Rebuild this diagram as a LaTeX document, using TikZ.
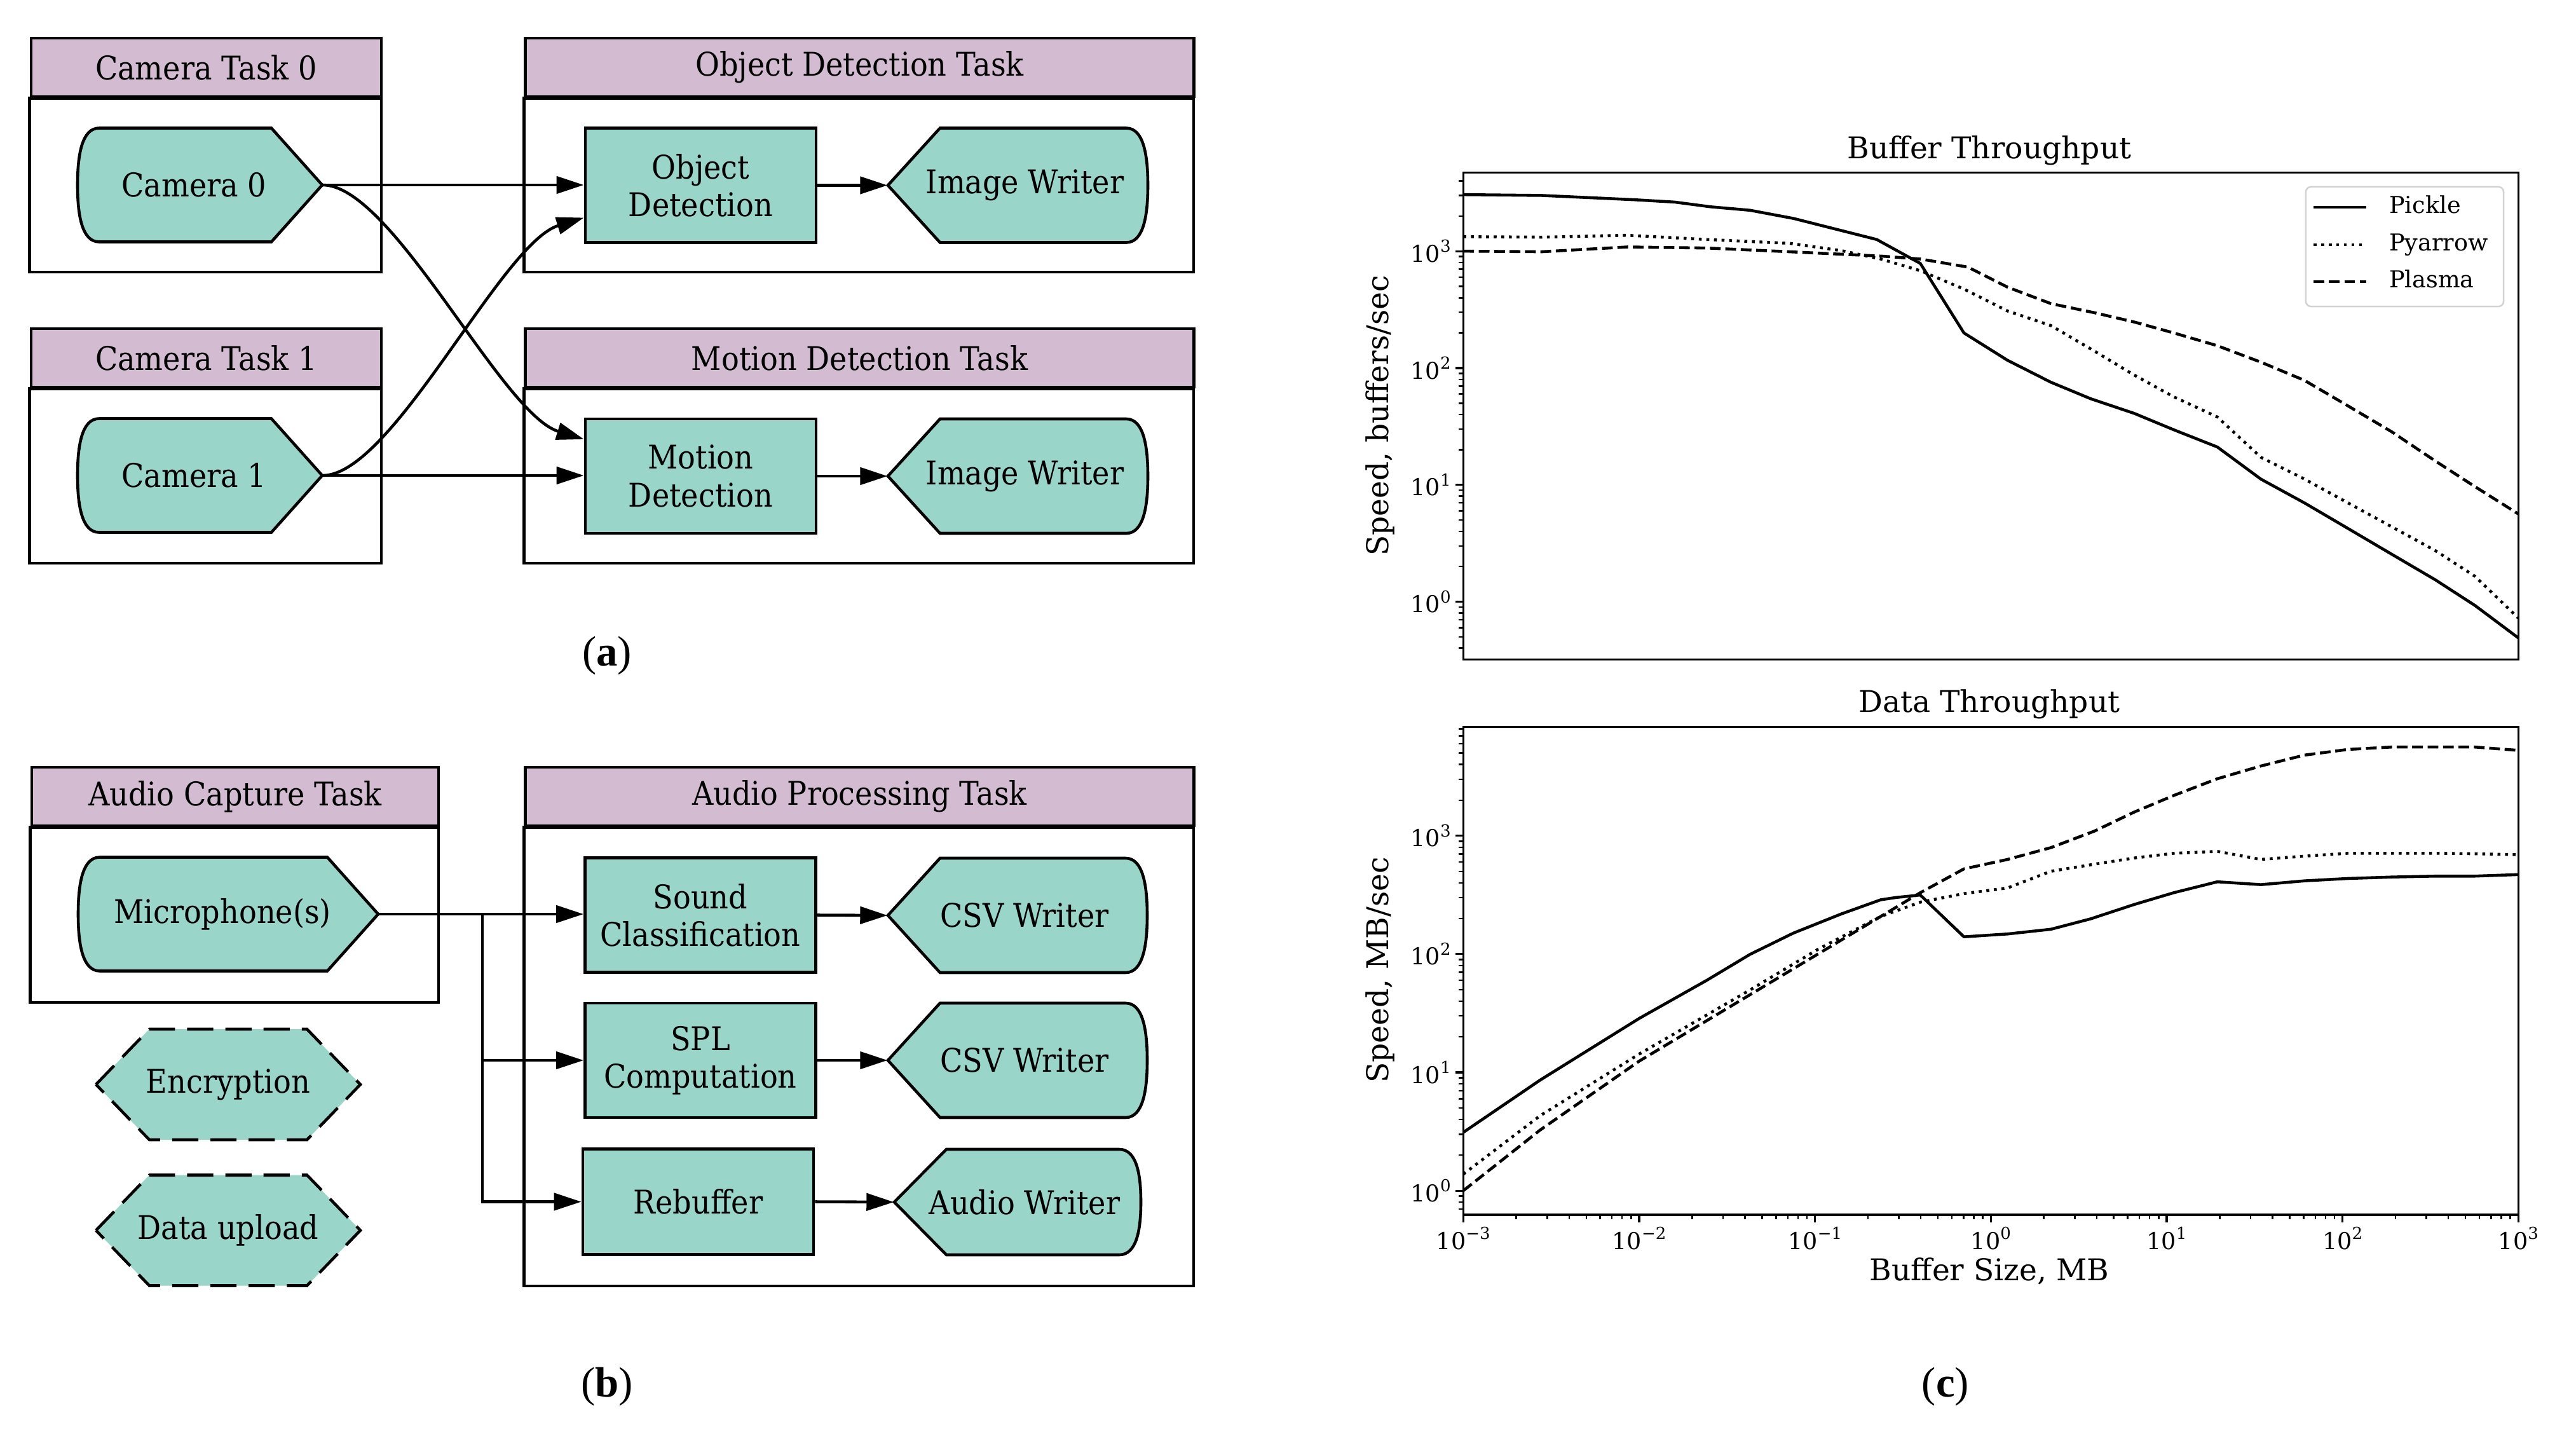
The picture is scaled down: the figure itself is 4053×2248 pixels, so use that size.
\documentclass[tikz,border=0pt]{standalone}
\usepackage{fontspec}
\usetikzlibrary{arrows.meta,calc}
\newfontfamily\diagfont{DejaVu Serif}[FakeStretch=0.9]
\newfontfamily\plotfont{DejaVu Serif}
\newfontfamily\capfont{Liberation Serif}
\definecolor{nodeteal}{RGB}{154,213,202}
\definecolor{bandlilac}{RGB}{211,188,210}
\definecolor{legendgray}{RGB}{210,210,210}

\newcommand{\nodefont}{\diagfont\fontsize{14.6}{16.8}\selectfont}
\newcommand{\tickfont}{\plotfont\fontsize{10.4}{12}\selectfont}
\newcommand{\labelfont}{\plotfont\fontsize{13.4}{16}\selectfont}
\newcommand{\tenpow}[1]{10\raisebox{0.42em}{\fontsize{7.4}{8}\selectfont#1}}

\tikzset{
  outline/.style={draw=black, line width=1.3pt},
  shapeline/.style={outline, fill=nodeteal},
  hexdash/.style={dash pattern=on 11.7pt off 5.4pt},
  bandnode/.style={outline, fill=bandlilac, minimum height=0.92cm, font=\nodefont},
  procnode/.style={outline, fill=nodeteal, minimum width=3.63cm, minimum height=1.80cm, align=center, font=\nodefont},
  shapetext/.style={inner sep=0pt, align=center, font=\nodefont},
  flow/.style={line width=1.3pt, -{Triangle[length=0.43cm,width=0.27cm]}},
  spine/.style={line width=0.9pt},
  minortick/.style={line width=0.7pt},
  ticklabel/.style={font=\tickfont, inner sep=0.06cm},
  axislabel/.style={font=\labelfont},
  legendtext/.style={font=\tickfont, inner sep=0pt, anchor=west, text height=1.6ex, text depth=0.3ex},
  pickle/.style={line width=1.3pt, line join=round},
  pyarrow/.style={line width=1.3pt, dash pattern=on 1.3pt off 2.1pt},
  plasma/.style={line width=1.3pt, dash pattern=on 4.8pt off 2.1pt},
  captext/.style={font=\capfont\fontsize{19}{22}\selectfont},
}

% source: round back, pointed front
\newcommand{\srcshape}[6]{%
  \draw[shapeline] (#2-#4/2+34,#3-#5/2) -- (#2+#4/2-80,#3-#5/2) -- (#2+#4/2,#3)
    -- (#2+#4/2-80,#3+#5/2) -- (#2-#4/2+34,#3+#5/2)
    .. controls (#2-#4/2+6,#3+#5/2) and (#2-#4/2,#3+#5/4) .. (#2-#4/2,#3)
    .. controls (#2-#4/2,#3-#5/4) and (#2-#4/2+6,#3-#5/2) .. cycle;
  \node[shapetext, minimum width={#4*0.01cm}, minimum height={#5*0.01cm}] (#1) at (#2,#3) {#6\hspace*{0.18cm}};}
% sink: pointed back, round front
\newcommand{\sinkshape}[6]{%
  \draw[shapeline] (#2-#4/2,#3) -- (#2-#4/2+82,#3-#5/2) -- (#2+#4/2-34,#3-#5/2)
    .. controls (#2+#4/2-6,#3-#5/2) and (#2+#4/2,#3-#5/4) .. (#2+#4/2,#3)
    .. controls (#2+#4/2,#3+#5/4) and (#2+#4/2-6,#3+#5/2) .. (#2+#4/2-34,#3+#5/2)
    -- (#2-#4/2+82,#3+#5/2) -- cycle;
  \node[shapetext, minimum width={#4*0.01cm}, minimum height={#5*0.01cm}] (#1) at (#2,#3) {\hspace*{0.22cm}#6};}
% optional stage
\newcommand{\hexshape}[4]{%
  \draw[shapeline, hexdash] (#2-208,#3) -- (#2-124,#3-87) -- (#2+124,#3-87) -- (#2+208,#3)
    -- (#2+124,#3+87) -- (#2-124,#3+87) -- cycle;
  \node[shapetext] (#1) at (#2,#3) {#4};}

\begin{document}
\begin{tikzpicture}[x=0.01cm, y=-0.01cm]
  \useasboundingbox (0,0) rectangle (4053,2248);

  % ---- (a) camera pipeline
  \node[bandnode, minimum width=5.51cm] (camtaskA) at (324.5,106) {Camera Task 0};
  \draw[outline] (camtaskA.south west) rectangle (600,428);
  \node[bandnode, minimum width=10.51cm] (objtask) at (1352.5,106) {Object Detection Task};
  \draw[outline] (objtask.south west) rectangle (1878,428);
  \node[bandnode, minimum width=5.51cm] (camtaskB) at (324.5,563) {Camera Task 1};
  \draw[outline] (camtaskB.south west) rectangle (600,886);
  \node[bandnode, minimum width=10.51cm] (mottask) at (1352.5,563) {Motion Detection Task};
  \draw[outline] (mottask.south west) rectangle (1878,886);

  \srcshape{cam0}{314.5}{291}{385}{179}{Camera 0}
  \srcshape{cam1}{314.5}{748}{385}{179}{Camera 1}
  \node[procnode] (objdet) at (1102.5,291.5) {Object\\Detection};
  \node[procnode] (motdet) at (1102.5,749) {Motion\\Detection};
  \sinkshape{imgwrA}{1601.5}{291.5}{409}{180}{Image Writer}
  \sinkshape{imgwrB}{1601.5}{749}{409}{180}{Image Writer}

  \draw[flow] (cam0.east) -- (cam0.east -| objdet.west);
  \draw[flow] (cam1.east) -- (cam1.east -| motdet.west);
  \draw[flow] (cam0.east) .. controls +(110,0) and +(-130,-40) .. ($(motdet.west)+(0,-58)$);
  \draw[flow] (cam1.east) .. controls +(110,0) and +(-130,40) .. ($(objdet.west)+(0,51)$);
  \draw[flow] (objdet.east) -- (imgwrA.west);
  \draw[flow] (motdet.east) -- (imgwrB.west);

  \node[captext] (capa) at (955,1031) {(\textbf{a})};

  % ---- (b) audio pipeline
  \node[bandnode, minimum width=6.40cm] (audcap) at (370,1253) {Audio Capture Task};
  \draw[outline] (audcap.south west) rectangle (690,1577);
  \node[bandnode, minimum width=10.51cm] (audproc) at (1352.5,1253) {Audio Processing Task};
  \draw[outline] (audproc.south west) rectangle (1878,2023);

  \srcshape{mic}{359}{1438}{472}{179}{Microphone(s)}
  \hexshape{encr}{359}{1706}{Encryption}
  \hexshape{dataup}{359}{1935.5}{Data upload}

  \node[procnode] (sndcls) at (1102,1439.5) {Sound\\Classification};
  \node[procnode] (splcomp) at (1102,1668) {SPL\\Computation};
  \node[procnode, minimum height=1.66cm] (rebuf) at (1098.5,1890.5) {Rebuffer};
  \sinkshape{csvA}{1601}{1440}{408}{180}{CSV Writer}
  \sinkshape{csvB}{1601}{1668}{408}{180}{CSV Writer}
  \sinkshape{audwr}{1601}{1891}{388}{166}{Audio Writer}

  \coordinate (bus) at (759,1438);
  \draw[flow] (mic.east) -- (mic.east -| sndcls.west);
  \draw[flow] (bus) |- (splcomp.west);
  \draw[flow] (bus) |- (rebuf.west);
  \draw[flow] (sndcls.east) -- (csvA.west);
  \draw[flow] (splcomp.east) -- (csvB.west);
  \draw[flow] (rebuf.east) -- (audwr.west);

  \node[captext] (capb) at (955,2181) {(\textbf{b})};

  % ---- (c) buffer throughput
  \node[axislabel] (buftitle) at (3130,237) {Buffer Throughput};
  \node[axislabel, rotate=90] (bufylab) at (2171,654) {Speed, buffers/sec};
  \begin{scope}[xshift=31.305cm, yshift=-9.46cm, x=2.765cm, y=1.837cm]
    \draw[spine] (-3,-0.495) rectangle (3,3.674);
    \foreach \k in {0,...,3}
      \draw[spine] (-3,\k) -- ++(-0.12cm,0) node[ticklabel, left] (buft\k) {\tenpow{\k}};
    \foreach \m in {4,...,9}
      \draw[minortick] (-3,{log10(\m)-1}) -- ++(-0.07cm,0);
    \foreach \k in {0,1,2}
      \foreach \m in {2,...,9}
        \draw[minortick] (-3,{\k+log10(\m)}) -- ++(-0.07cm,0);
    \foreach \m in {2,3,4}
      \draw[minortick] (-3,{3+log10(\m)}) -- ++(-0.07cm,0);

    \draw[pickle] plot coordinates {(-3,3.484) (-2.554,3.477) (-2.023,3.44) (-1.797,3.42)
      (-1.595,3.38) (-1.369,3.35) (-1.122,3.28) (-0.649,3.10) (-0.401,2.895) (-0.153,2.30)
      (0.095,2.066) (0.342,1.878) (0.568,1.737) (0.815,1.612) (1.041,1.471) (1.288,1.324)
      (1.536,1.049) (1.784,0.845) (2.032,0.626) (2.279,0.407) (2.527,0.188) (2.752,-0.031) (3,-0.31)};
    \draw[pyarrow] plot coordinates {(-3,3.124) (-2.554,3.12) (-2.068,3.136) (-1.617,3.10)
      (-1.144,3.067) (-0.851,3.005) (-0.626,2.933) (-0.401,2.833) (-0.153,2.676) (0.095,2.488)
      (0.342,2.363) (0.59,2.144) (0.815,1.94) (1.041,1.753) (1.288,1.581) (1.536,1.236)
      (1.784,1.049) (2.032,0.845) (2.279,0.642) (2.527,0.438) (2.752,0.219) (3,-0.14)};
    \draw[plasma] plot coordinates {(-3,3.00) (-2.554,2.995) (-2.068,3.036) (-1.617,3.027)
      (-1.144,2.995) (-0.626,2.958) (-0.401,2.933) (-0.131,2.864) (0.095,2.692) (0.342,2.551)
      (0.59,2.473) (0.815,2.394) (1.041,2.30) (1.288,2.191) (1.536,2.05) (1.784,1.894)
      (2.032,1.675) (2.279,1.455) (2.527,1.205) (2.752,0.986) (3,0.751)};
  \end{scope}

  % legend
  \node[draw=legendgray, line width=0.7pt, rounded corners=0.08cm, fill=white,
        minimum width=3.11cm, minimum height=1.88cm] (legend) at (3783.5,388) {};
  \draw[pickle] (3640,326) -- (3723,326) node[legendtext, right=0.34cm] (legpickle) {Pickle};
  \draw[pyarrow] (3640,385) -- (3723,385) node[legendtext, right=0.34cm] (legpyarrow) {Pyarrow};
  \draw[plasma] (3640,443) -- (3723,443) node[legendtext, right=0.34cm] (legplasma) {Plasma};

  % ---- (c) data throughput
  \node[axislabel] (dattitle) at (3130,1108) {Data Throughput};
  \node[axislabel, rotate=90] (datylab) at (2171,1526) {Speed, MB/sec};
  \node[axislabel] (datxlab) at (3130,2000) {Buffer Size, MB};
  \begin{scope}[xshift=31.305cm, yshift=-18.72cm, x=2.765cm, y=1.86cm]
    \draw[spine] (-3,-0.204) rectangle (3,3.919);
    \foreach \k in {0,...,3}
      \draw[spine] (-3,\k) -- ++(-0.12cm,0) node[ticklabel, left] (datt\k) {\tenpow{\k}};
    \foreach \m in {7,8,9}
      \draw[minortick] (-3,{log10(\m)-1}) -- ++(-0.07cm,0);
    \foreach \k in {0,1,2}
      \foreach \m in {2,...,9}
        \draw[minortick] (-3,{\k+log10(\m)}) -- ++(-0.07cm,0);
    \foreach \m in {2,...,8}
      \draw[minortick] (-3,{3+log10(\m)}) -- ++(-0.07cm,0);
    \foreach \k/\lab/\i in {-3/−3/1,-2/−2/2,-1/−1/3,0/0/4,1/1/5,2/2/6,3/3/7}
      \draw[spine] (\k,-0.204) -- ++(0,-0.12cm) node[ticklabel, below] (datx\i) {\tenpow{\lab}};
    \foreach \k in {-3,...,2}
      \foreach \m in {2,...,9}
        \draw[minortick] ({\k+log10(\m)},-0.204) -- ++(0,-0.07cm);

    \draw[pickle] plot coordinates {(-3,0.493) (-2.563,0.935) (-2.0,1.456) (-1.617,1.777)
      (-1.369,1.998) (-1.122,2.178) (-0.851,2.339) (-0.626,2.459) (-0.536,2.479) (-0.401,2.499)
      (-0.153,2.146) (0.095,2.17) (0.342,2.21) (0.568,2.298) (0.815,2.419) (1.041,2.519)
      (1.288,2.611) (1.536,2.587) (1.784,2.619) (2.032,2.639) (2.279,2.651) (2.527,2.659)
      (2.752,2.659) (3,2.672)};
    \draw[pyarrow] plot coordinates {(-3,0.14) (-2.563,0.634) (-2.0,1.155) (-1.369,1.697)
      (-0.986,2.038) (-0.626,2.318) (-0.401,2.439) (-0.153,2.511) (0.095,2.559) (0.342,2.70)
      (0.59,2.76) (0.815,2.812) (1.041,2.852) (1.288,2.868) (1.536,2.80) (1.784,2.828)
      (2.032,2.852) (2.279,2.852) (2.527,2.852) (2.752,2.848) (3,2.84)};
    \draw[plasma] plot coordinates {(-3,0.0) (-2.563,0.513) (-2.0,1.095) (-1.369,1.657)
      (-0.986,1.998) (-0.626,2.318) (-0.401,2.519) (-0.153,2.72) (0.095,2.80) (0.342,2.90)
      (0.59,3.04) (0.815,3.20) (1.041,3.341) (1.288,3.482) (1.536,3.59) (1.784,3.682)
      (2.032,3.73) (2.279,3.75) (2.527,3.75) (2.752,3.75) (3,3.722)};
  \end{scope}

  \node[captext] (capc) at (3061,2181) {(\textbf{c})};
\end{tikzpicture}
\end{document}
